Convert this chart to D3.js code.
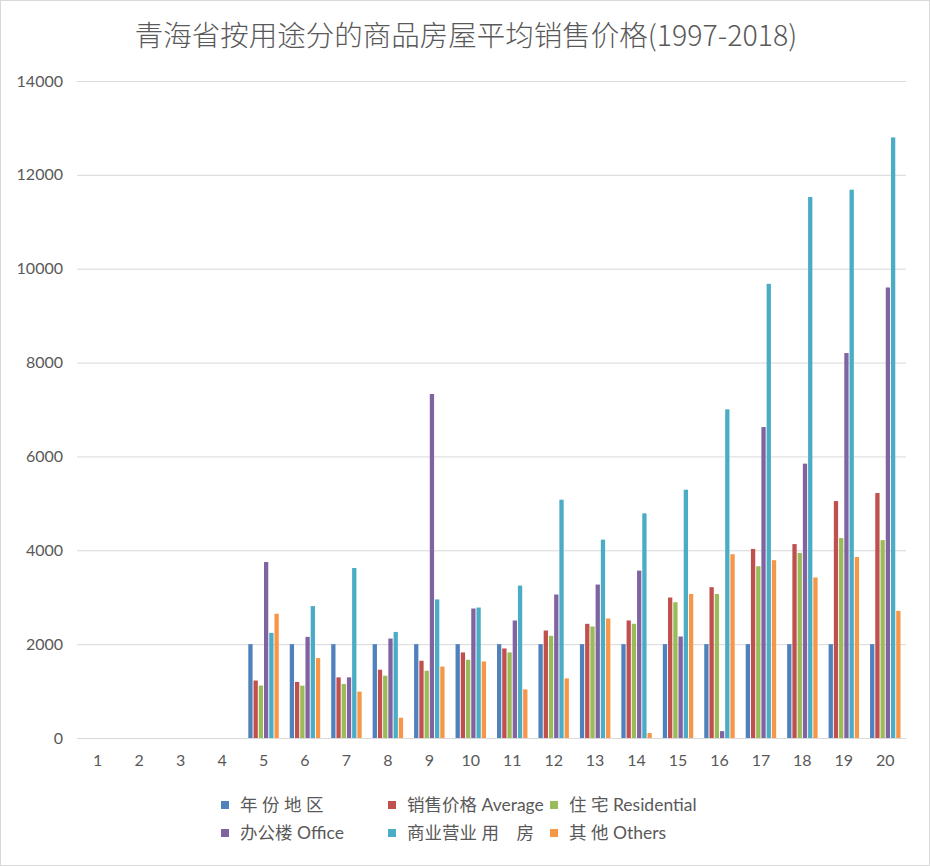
<!DOCTYPE html>
<html>
<head>
<meta charset="utf-8">
<script src="https://cdn.jsdelivr.net/npm/d3@7"></script>
<style>
  html, body { margin: 0; padding: 0; background: #fff; }
  #chart { width: 930px; height: 866px; }
  text { font-family: Lato, "Noto Sans CJK SC", sans-serif; fill: #595959; }
</style>
</head>
<body>
<div id="chart"></div>
<script>
//Datos
const categories = ['1','2','3','4','5','6','7','8','9','10','11','12','13','14','15','16','17','18','19','20'];
const seriesNames = ['年 份 地 区', '销售价格 Average', '住 宅 Residential', '办公楼 Office', '商业营业 用　房', '其 他 Others'];
const yearArea   = [0,0,0,0,2000,2000,2000,2000,2000,2000,2000,2000,2000,2000,2000,2000,2000,2000,2000,2000];
const average    = [0,0,0,0,1225,1195,1292,1455,1646,1823,1908,2291,2433,2504,2993,3214,4029,4132,5049,5220];
const residential= [0,0,0,0,1118,1116,1152,1328,1434,1667,1823,2177,2376,2433,2894,3069,3660,3943,4260,4217];
const office     = [0,0,0,0,3750,2155,1292,2119,7330,2759,2504,3057,3270,3567,2163,146,6626,5846,8203,9600];
const commercial = [0,0,0,0,2240,2811,3623,2260,2953,2780,3248,5078,4227,4787,5291,7003,9678,11529,11684,12798];
const others     = [0,0,0,0,2648,1703,989,432,1522,1631,1035,1270,2546,106,3069,3917,3789,3420,3857,2709];
const yTicks = [0,2000,4000,6000,8000,10000,12000,14000];

//Colores fijos
const COLORS = ['#4F81BD', '#C0504D', '#9BBB59', '#8064A2', '#4BACC6', '#F79646'];

const allSeries = [yearArea, average, residential, office, commercial, others];
const data = categories.map(function(c, i) {
    return { cat: c, values: allSeries.map(function(s, j) { return { key: j, value: s[i] }; }) };
});

const W = 930, H = 866;
let margin = {top: 81, right: 24, bottom: 128, left: 77},
    width = W - margin.left - margin.right,
    height = H - margin.top - margin.bottom;

let svgRoot = d3.select('#chart').append('svg')
    .attr('width', W).attr('height', H);

//Borde
svgRoot.append('rect')
    .attr('x', 0.5).attr('y', 0.5)
    .attr('width', W - 1).attr('height', H - 1)
    .attr('fill', '#fff').attr('stroke', '#d9d9d9');

//Título
svgRoot.append('text')
    .attr('x', W / 2 + 1).attr('y', 46)
    .attr('text-anchor', 'middle')
    .style('font-family', '"Noto Sans CJK SC", sans-serif')
    .style('font-weight', 300)
    .style('font-size', '28.5px')
    .text('青海省按用途分的商品房屋平均销售价格(1997-2018)');

let svg = svgRoot.append('g')
    .attr('transform', 'translate(' + margin.left + ',' + margin.top + ')');

let y = d3.scaleLinear().domain([0, 14000]).range([height, 0]);

let x0 = d3.scaleBand().domain(categories).range([0, width])
    .paddingInner(0.22).paddingOuter(0.11);

let x1 = d3.scaleBand().domain(d3.range(6)).range([0, x0.bandwidth()]).padding(0.18);

//Rejilla
let yAxis = svg.append('g')
    .call(d3.axisLeft(y).tickValues(yTicks).tickFormat(d3.format('d')).tickSize(-width).tickPadding(14));
yAxis.select('.domain').remove();
yAxis.selectAll('.tick line').attr('stroke', '#d9d9d9').attr('stroke-width', 1);
yAxis.selectAll('.tick text').style('font-size', '16px').style('fill', '#595959');

//Barras
svg.append('g').selectAll('g')
    .data(data).enter().append('g')
    .attr('transform', function(d) { return 'translate(' + x0(d.cat) + ',0)'; })
    .selectAll('rect')
    .data(function(d) { return d.values; })
    .enter().append('rect')
    .attr('x', function(d) { return x1(d.key); })
    .attr('y', function(d) { return y(d.value); })
    .attr('width', x1.bandwidth())
    .attr('height', function(d) { return height - y(d.value); })
    .attr('fill', function(d) { return COLORS[d.key]; });

//Eje X
let xAxis = svg.append('g')
    .attr('transform', 'translate(0,' + height + ')')
    .call(d3.axisBottom(x0).tickSize(0).tickPadding(17));
xAxis.select('.domain').attr('stroke', '#d9d9d9');
xAxis.selectAll('.tick text').style('font-size', '16px').style('fill', '#595959');

//Leyenda
const legendPos = [[221, 805], [388, 805], [550, 805], [221, 833], [388, 833], [550, 833]];
let legend = svgRoot.append('g').selectAll('g')
    .data(seriesNames).enter().append('g')
    .attr('transform', function(d, i) { return 'translate(' + legendPos[i][0] + ',' + legendPos[i][1] + ')'; });
legend.append('rect')
    .attr('x', 0).attr('y', -4).attr('width', 8).attr('height', 8)
    .attr('fill', function(d, i) { return COLORS[i]; });
legend.append('text')
    .attr('x', 19).attr('y', 0).attr('dy', '0.35em')
    .style('font-size', '17.5px')
    .style('white-space', 'pre')
    .text(function(d) { return d; });
</script>
</body>
</html>
